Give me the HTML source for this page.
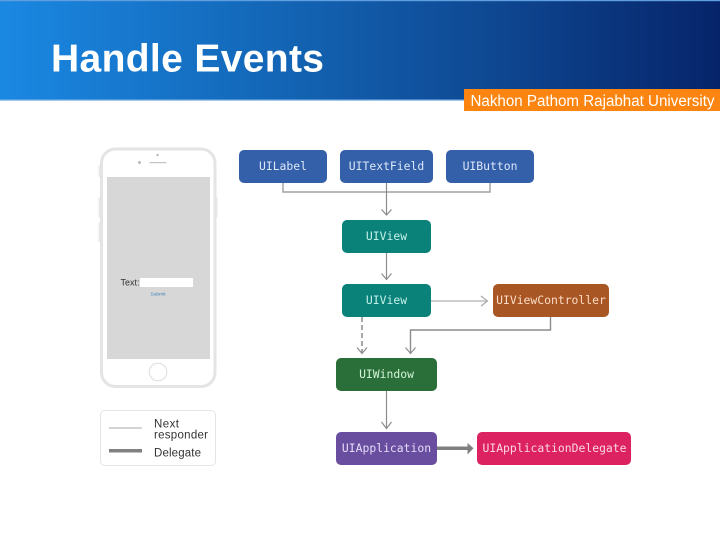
<!DOCTYPE html>
<html>
<head>
<meta charset="utf-8">
<style>
html,body{margin:0;padding:0;background:#fff}
svg{display:block;filter:blur(0.35px)}
.m{font-family:"DejaVu Sans Mono","Liberation Mono",monospace;font-size:11.4px;text-anchor:middle}
.s{font-family:"Liberation Sans",sans-serif}
</style>
</head>
<body>
<svg width="720" height="540" viewBox="0 0 720 540" xmlns="http://www.w3.org/2000/svg">
<defs>
<linearGradient id="g" x1="0" x2="1" y1="0" y2="0">
<stop offset="0" stop-color="#1a88e2"/>
<stop offset="0.4" stop-color="#1364b4"/>
<stop offset="0.7" stop-color="#0e4690"/>
<stop offset="1" stop-color="#06246a"/>
</linearGradient>
</defs>
<rect width="720" height="540" fill="#fff"/>
<rect x="0" y="0" width="720" height="100" fill="url(#g)"/>
<rect x="0" y="0" width="720" height="1.200" fill="#5f9fe0"/>
<rect x="0" y="99.500" width="720" height="1.200" fill="#7fb4e6"/>
<text class="s" x="51" y="71.700" font-size="39" font-weight="700" fill="#fff" textLength="273" lengthAdjust="spacing">Handle Events</text>
<rect x="464" y="89" width="256" height="22" fill="#fb8510"/>
<text class="s" x="470.500" y="106" font-size="15.500" fill="#fff" textLength="244" lengthAdjust="spacingAndGlyphs">Nakhon Pathom Rajabhat University</text>

<!-- phone -->
<rect x="98.500" y="165" width="4" height="12" rx="1.500" fill="#e8e8e8"/>
<rect x="98.500" y="197" width="4" height="21" rx="1.500" fill="#e8e8e8"/>
<rect x="98.500" y="222" width="4" height="20" rx="1.500" fill="#e8e8e8"/>
<rect x="213.500" y="197" width="4" height="21" rx="1.500" fill="#e8e8e8"/>
<rect x="101.500" y="149" width="113.500" height="237.500" rx="14" fill="#fff" stroke="#e4e4e4" stroke-width="3"/>
<rect x="107" y="177" width="103" height="182" fill="#d7d7d7"/>
<circle cx="157.500" cy="155" r="1.200" fill="#bbb"/>
<circle cx="139.500" cy="162.500" r="1.500" fill="#bbb"/>
<rect x="149.500" y="162" width="17" height="1.200" fill="#c4c4c4"/>
<circle cx="158" cy="372" r="8.800" fill="#fff" stroke="#dcdcdc" stroke-width="1"/>
<text class="s" x="120.500" y="285.500" font-size="9" fill="#333">Text:</text>
<rect x="140" y="278" width="53" height="9" fill="#fff"/>
<text class="s" x="158" y="295.500" font-size="4.800" text-anchor="middle" fill="#3d80b8">Submit</text>

<!-- legend -->
<rect x="100.500" y="410.500" width="115" height="55" rx="4.500" fill="#fff" stroke="#e4e4e4" stroke-width="1"/>
<rect x="109" y="427.500" width="33" height="1" fill="#a8a8a8"/>
<rect x="109" y="449" width="33" height="3.500" fill="#808080"/>
<text class="s" x="154" y="427.500" font-size="11.500" fill="#333" textLength="25">Next</text>
<text class="s" x="154" y="438.500" font-size="11.500" fill="#333" textLength="54">responder</text>
<text class="s" x="154" y="456.500" font-size="11.500" fill="#333" textLength="47">Delegate</text>

<!-- connectors -->
<g fill="none" stroke="#8c8c8c" stroke-width="1.200">
<path d="M283 183V192H490V183" stroke="#a0a0a0" stroke-width="1.400"/>
<path d="M386.500 183V214"/>
<path d="M381.500 209.500L386.500 215L391.500 209.500"/>
<path d="M386.500 253V279"/>
<path d="M381.500 273.500L386.500 279.500L391.500 273.500"/>
<path d="M431 301H487" stroke="#bdbdbd" stroke-width="1.400"/>
<path d="M481 296L487.500 301L481 306" stroke="#a8a8a8"/>
<path d="M550.500 317V330H410.500V353" stroke-width="1.400"/>
<path d="M405.500 347.500L410.500 353.500L415.500 347.500"/>
<path d="M362 317V353" stroke-width="1.500" stroke-dasharray="5 3"/>
<path d="M357 347.500L362 353.500L367 347.500"/>
<path d="M386.500 391V428"/>
<path d="M381.500 422L386.500 428.500L391.500 422"/>
</g>
<rect x="437" y="446.500" width="31" height="3.500" fill="#808080"/>
<path d="M467.500 443L473.500 448.300L467.500 454.500Z" fill="#808080"/>

<!-- nodes -->
<rect x="239" y="150" width="88" height="33" rx="5" fill="#345fa9"/>
<rect x="340" y="150" width="93" height="33" rx="5" fill="#345fa9"/>
<rect x="446" y="150" width="88" height="33" rx="5" fill="#345fa9"/>
<rect x="342" y="220" width="89" height="33" rx="5" fill="#0a8179"/>
<rect x="342" y="284" width="89" height="33" rx="5" fill="#0a8179"/>
<rect x="493" y="284" width="116" height="33" rx="5" fill="#a85623"/>
<rect x="336" y="358" width="101" height="33" rx="5" fill="#2a6e39"/>
<rect x="336" y="432" width="101" height="33" rx="5" fill="#694ea0"/>
<rect x="477" y="432" width="154" height="33" rx="5" fill="#dc2260"/>

<text class="m" x="283" y="170" fill="#dce8fa">UILabel</text>
<text class="m" x="386.500" y="170" fill="#dce8fa">UITextField</text>
<text class="m" x="490" y="170" fill="#dce8fa">UIButton</text>
<text class="m" x="386.500" y="240" fill="#c4f2ea">UIView</text>
<text class="m" x="386.500" y="304" fill="#c4f2ea">UIView</text>
<text class="m" x="551" y="304" fill="#fbdcc6">UIViewController</text>
<text class="m" x="386.500" y="378" fill="#d4f5d8">UIWindow</text>
<text class="m" x="386.500" y="452" fill="#e6dcf8">UIApplication</text>
<text class="m" x="554.500" y="452" fill="#fcd6e4">UIApplicationDelegate</text>
</svg>
</body>
</html>
